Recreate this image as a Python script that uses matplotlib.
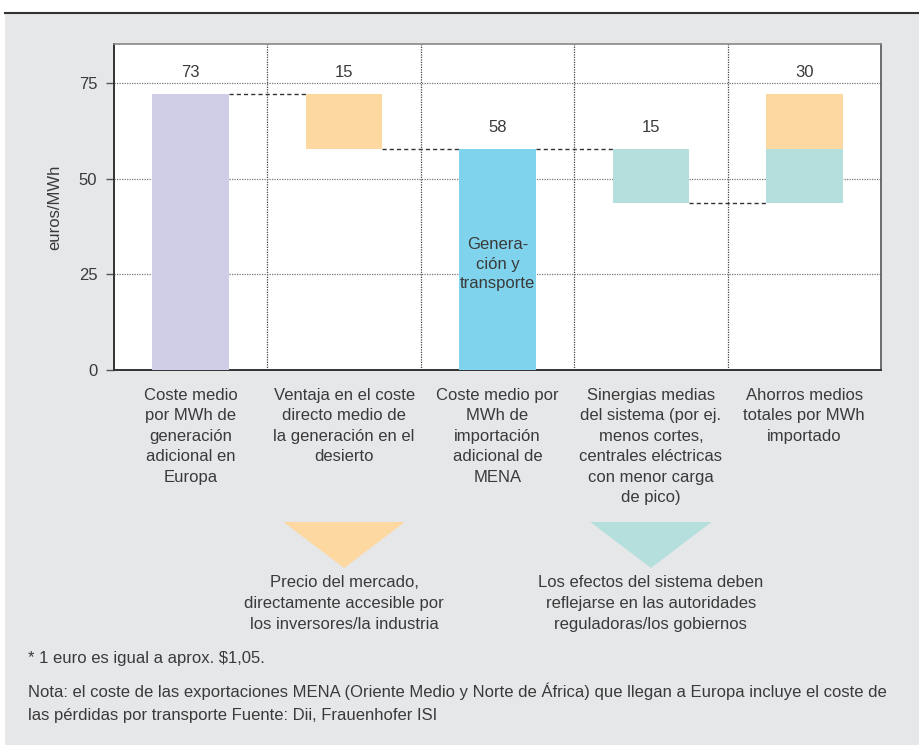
import matplotlib
matplotlib.use("Agg")
import matplotlib.pyplot as plt
from matplotlib.patches import Polygon, Rectangle
import matplotlib.transforms as mtransforms

plt.rcParams['font.family'] = ['Liberation Sans', 'DejaVu Sans']

# ---- data ----
categories = [
    "Coste medio\npor MWh de\ngeneración\nadicional en\nEuropa",
    "Ventaja en el coste\ndirecto medio de\nla generación en el\ndesierto",
    "Coste medio por\nMWh de\nimportación\nadicional de\nMENA",
    "Sinergias medias\ndel sistema (por ej.\nmenos cortes,\ncentrales eléctricas\ncon menor carga\nde pico)",
    "Ahorros medios\ntotales por MWh\nimportado",
]
value_labels = ["73", "15", "58", "15", "30"]
europe_cost = 72.1        # drawn height of first bar
desert_advantage = 14.4   # drawn size of the orange step
system_synergies = 14.1   # drawn size of the teal step
yticks = [0, 25, 50, 75]
inner_label = "Genera-\nción y\ntransporte"
note_market = "Precio del mercado,\ndirectamente accesible por\nlos inversores/la industria"
note_system = "Los efectos del sistema deben\nreflejarse en las autoridades\nreguladoras/los gobiernos"
footnote = "* 1 euro es igual a aprox. $1,05."
source = ("Nota: el coste de las exportaciones MENA (Oriente Medio y Norte de África) que llegan a Europa incluye el coste de\n"
          "las pérdidas por transporte Fuente: Dii, Frauenhofer ISI")

# ---- colours ----
PURPLE = "#d0cee6"
ORANGE = "#fdd8a0"
BLUE = "#7fd3ec"
TEAL = "#b5dfdd"
PANEL = "#e6e7e9"
TXT = "#3a3a3a"
FS = 12

mena_cost = europe_cost - desert_advantage
after_synergy = mena_cost - system_synergies

fig = plt.figure(figsize=(9.2, 7.45), dpi=100)
fig.patch.set_facecolor("white")
# grey panel with dark top rule
fig.patches.append(Rectangle((5/920, 0), 1 - 5/920, (745-13)/745, transform=fig.transFigure,
                             facecolor=PANEL, edgecolor="none", zorder=-10))
fig.lines.append(plt.Line2D([5/920, 1], [(745-12.5)/745]*2, transform=fig.transFigure,
                            color="#333333", lw=1.5))

ax = fig.add_axes([114/920, (745-370)/745, (881-114)/920, (370-44)/745])
ax.set_facecolor("white")
w = 0.5
x = list(range(len(categories)))

ax.bar(0, europe_cost, width=w, color=PURPLE, zorder=3)
ax.bar(1, desert_advantage, bottom=mena_cost, width=w, color=ORANGE, zorder=3)
ax.bar(2, mena_cost, width=w, color=BLUE, zorder=3)
ax.bar(3, system_synergies, bottom=after_synergy, width=w, color=TEAL, zorder=3)
ax.bar(4, system_synergies, bottom=after_synergy, width=w, color=TEAL, zorder=3)
ax.bar(4, desert_advantage, bottom=mena_cost, width=w, color=ORANGE, zorder=3)

# connectors
levels = [europe_cost, mena_cost, mena_cost, after_synergy]
for i, lv in enumerate(levels):
    ax.plot([i + w/2, i + 1 - w/2], [lv, lv], ls=(0, (3, 2.2)), color="#333333", lw=1.0, zorder=4)

# value labels
tops = [europe_cost, europe_cost, mena_cost, mena_cost, europe_cost]
for i, (t, lab) in enumerate(zip(tops, value_labels)):
    ax.text(i, t + 5.6, lab, ha="center", va="center", fontsize=FS, color=TXT)

ax.text(2, 27.7, inner_label, ha="center", va="center", fontsize=FS, color=TXT, linespacing=1.4, zorder=5)

ax.set_xlim(-0.5, 4.5)
ax.set_ylim(0, 85.2)
ax.set_yticks(yticks)
ax.set_yticklabels([str(v) for v in yticks], fontsize=FS, color=TXT)
ax.set_xticks(x)
ax.set_xticklabels(categories, fontsize=FS, color=TXT, linespacing=1.45, va="top")
ax.tick_params(axis="x", length=0, pad=13)
ax.tick_params(axis="y", length=6, width=1, color="#555555", pad=6)
ax.set_xticks([0.5, 1.5, 2.5, 3.5], minor=True)
ax.tick_params(axis="x", which="minor", length=0)
ax.grid(axis="y", which="major", ls=(0, (1, 1)), color="#777777", lw=0.9, zorder=0)
ax.grid(axis="x", which="minor", ls=(0, (1, 1)), color="#444444", lw=0.9, zorder=0)
ax.set_ylabel("euros/MWh", fontsize=FS, color=TXT)
ax.yaxis.set_label_coords(-0.068, 0.5)

for s in ["left", "bottom"]:
    ax.spines[s].set_color("#333333")
    ax.spines[s].set_linewidth(1.4)
ax.spines["top"].set_color("#888888")
ax.spines["right"].set_color("#555555")
ax.spines["top"].set_linewidth(1.2)
ax.spines["right"].set_linewidth(1.2)

# triangles below columns 1 and 3
trans = mtransforms.blended_transform_factory(ax.transData, fig.transFigure)
ytop = (745-522)/745
yapex = (745-568)/745
hw = 0.395
for cx, col, txt in [(1, ORANGE, note_market), (3, TEAL, note_system)]:
    tri = Polygon([(cx - hw, ytop), (cx + hw, ytop), (cx, yapex)], closed=True,
                  transform=trans, facecolor=col, edgecolor="none", clip_on=False)
    fig.patches.append(tri)
    fig.text(cx, (745-575)/745, txt, transform=trans, ha="center", va="top",
             fontsize=FS, color=TXT, linespacing=1.5)

fig.text(28/920, (745-659)/745, footnote, ha="left", va="center", fontsize=FS, color=TXT)
fig.text(28/920, (745-683)/745, source, ha="left", va="top", fontsize=FS, color=TXT, linespacing=1.6)

fig.savefig("out.png", dpi=100)
